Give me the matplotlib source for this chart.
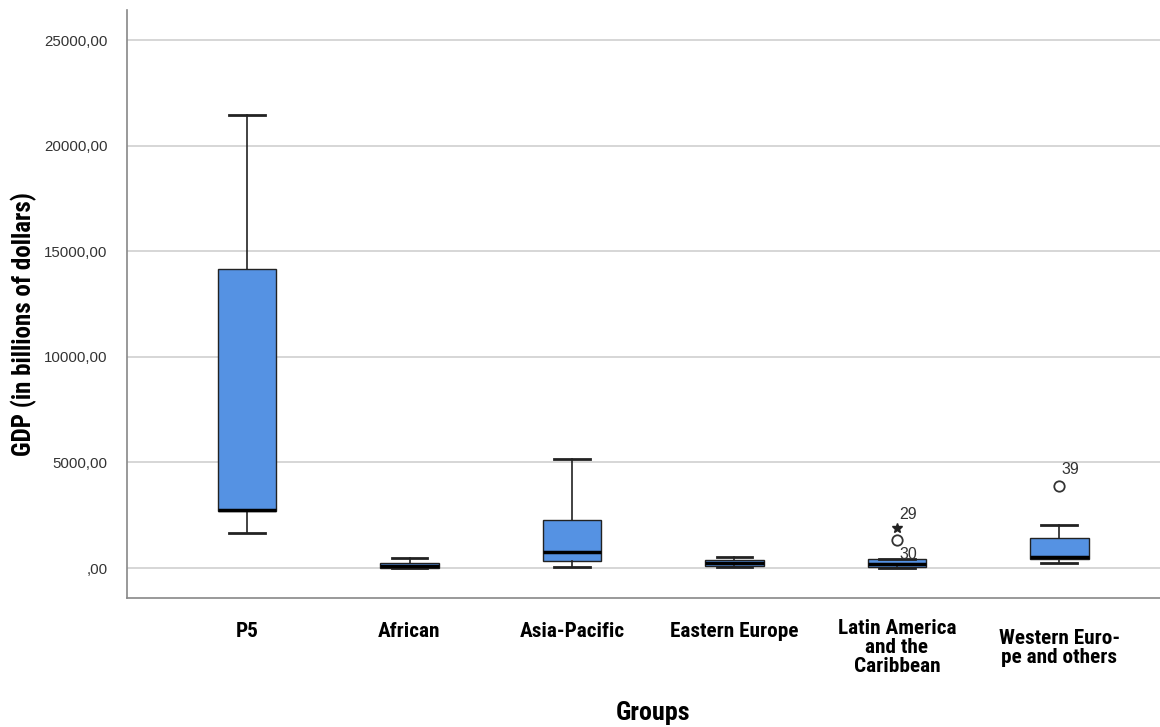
import matplotlib
matplotlib.use("Agg")
import matplotlib.pyplot as plt
from matplotlib.ticker import FuncFormatter
from matplotlib import font_manager

groups = ["P5", "African", "Asia-Pacific", "Eastern Europe",
          "Latin America\nand the\nCaribbean", "Western Euro-\npe and others"]
whislo = [1660, 5, 50, 50, 20, 240]
q1 = [2680, 20, 330, 100, 50, 430]
med = [2760, 100, 760, 230, 190, 520]
q3 = [14160, 230, 2270, 400, 430, 1420]
whishi = [21450, 470, 5160, 540, 450, 2040]
out_group = [4, 4, 5]
out_value = [1330, 1890, 3880]
out_marker = ["o", "*", "o"]
out_labels = [("29", 4, 2550), ("30", 4, 620), ("39", 5, 4650)]
yticks = [0, 5000, 10000, 15000, 20000, 25000]

cond = False
try:
    font_manager.findfont(font_manager.FontProperties(family="Roboto Condensed"),
                          fallback_to_default=False)
    cond = True
except Exception:
    cond = False
bfam = "Roboto Condensed" if cond else "Roboto"
tsz = 15.3 if cond else 13.5
lsz = 18 if cond else 16.5
gsz = 18.8 if cond else 17

fig = plt.figure(figsize=(11.6, 7.27), dpi=100)
ax = fig.add_axes([0.1095, 0.1774, 0.8905, 0.8086])

stats = []
for i in range(len(groups)):
    stats.append(dict(whislo=whislo[i], q1=q1[i], med=med[i], q3=q3[i],
                      whishi=whishi[i], fliers=[]))
pos = list(range(1, len(groups) + 1))
ax.bxp(stats, positions=pos, widths=0.36, patch_artist=True, showfliers=False,
       boxprops=dict(facecolor="#5592e3", edgecolor="#222222", linewidth=1.0),
       medianprops=dict(color="black", linewidth=2.5),
       whiskerprops=dict(color="#222222", linewidth=1.2),
       capprops=dict(color="#222222", linewidth=2.0), capwidths=0.22, zorder=3)

for g, v, m in zip(out_group, out_value, out_marker):
    if m == "o":
        ax.plot(pos[g], v, marker="o", markersize=7.5, markerfacecolor="white",
                markeredgecolor="#333333", markeredgewidth=1.3, linestyle="none", zorder=4)
    else:
        ax.plot(pos[g], v, marker="*", markersize=7, color="#222222",
                linestyle="none", zorder=4)
for txt, g, v in out_labels:
    ax.text(pos[g] + 0.015, v, txt, fontsize=11.5, color="#333333",
            family="Liberation Sans", va="center", ha="left", zorder=5)

ax.set_xlim(0.261, 6.62)
ax.set_ylim(-1420, 26420)
ax.set_yticks(yticks)
ax.yaxis.set_major_formatter(FuncFormatter(lambda v, p: (",00" if v == 0 else f"{int(v)},00")))
ax.grid(axis="y", color="#d0d0d0", linewidth=1.2, zorder=0)
ax.set_axisbelow(True)
ax.tick_params(axis="y", length=0, pad=14, labelsize=10.8, labelcolor="#333333")
for lab in ax.get_yticklabels():
    lab.set_family("Liberation Sans")
ax.set_xticks(pos)
ax.set_xticklabels([])
ax.tick_params(axis="x", length=0)
xtr = ax.get_xaxis_transform()
for p, lab in zip(pos, groups):
    nl = lab.count("\n")
    yy = -0.0561 if nl == 0 else (-0.0835 if nl == 2 else -0.0855)
    ax.text(p, yy, lab, transform=xtr, fontsize=tsz, fontweight="bold", family=bfam,
            ha="center", va="center", multialignment="center", linespacing=1.0,
            clip_on=False)

for s in ["top", "right"]:
    ax.spines[s].set_visible(False)
for s in ["left", "bottom"]:
    ax.spines[s].set_color("#888888")
    ax.spines[s].set_linewidth(1.2)

fig.text(24 / 1160, 0.5536, "GDP (in billions of dollars)", fontsize=lsz, fontweight="bold",
         family=bfam, rotation=90, ha="center", va="center")
fig.text(0.563, 0.003, "Groups", fontsize=gsz, fontweight="bold", family=bfam,
         ha="center", va="bottom")

fig.savefig("out.png", dpi=100)
